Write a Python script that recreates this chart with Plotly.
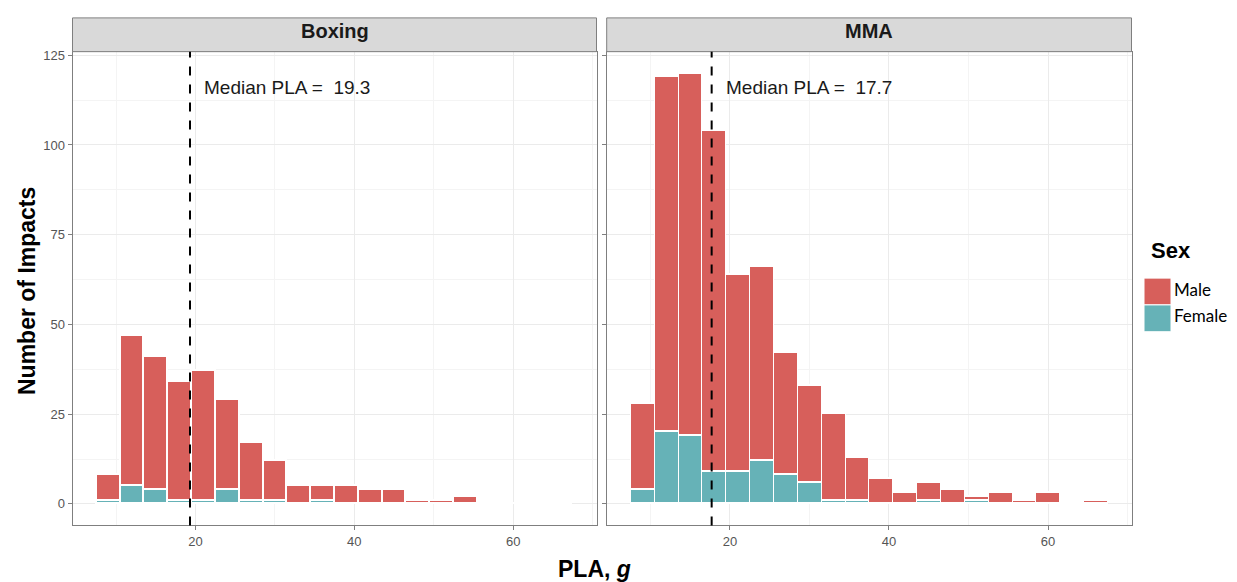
import plotly.graph_objects as go

# ---- data ----
bin_centers = [9, 12, 15, 18, 21, 24, 27, 30, 33, 36, 39, 42, 45, 48, 51, 54, 57, 60, 63, 66]
boxing_male = [7, 42, 37, 33, 36, 25, 16, 11, 5, 4, 5, 4, 4, 1, 1, 2, 0, 0, 0, 0]
boxing_female = [1, 5, 4, 1, 1, 4, 1, 1, 0, 1, 0, 0, 0, 0, 0, 0, 0, 0, 0, 0]
mma_male = [24, 99, 101, 95, 55, 54, 34, 27, 24, 12, 7, 3, 5, 4, 1, 3, 1, 3, 0, 1]
mma_female = [4, 20, 19, 9, 9, 12, 8, 6, 1, 1, 0, 0, 1, 0, 1, 0, 0, 0, 0, 0]
panels = ["Boxing", "MMA"]
medians = [19.3, 17.7]
sex_labels = ["Male", "Female"]
bin_width = 3

MALE_C = "#D75F5B"
FEMALE_C = "#66B2B7"
FONT = "Liberation Sans, Arial, sans-serif"
W, H = 1237, 582

fig = go.Figure()

series = [(boxing_male, boxing_female, "x", "y"), (mma_male, mma_female, "x2", "y2")]
for male, female, xa, ya in series:
    fig.add_trace(go.Bar(x=bin_centers, y=female, width=bin_width, marker=dict(color=FEMALE_C, line=dict(color="white", width=1.2)),
                         xaxis=xa, yaxis=ya, showlegend=False, name="Female"))
    fig.add_trace(go.Bar(x=bin_centers, y=male, width=bin_width, marker=dict(color=MALE_C, line=dict(color="white", width=1.2)),
                         xaxis=xa, yaxis=ya, showlegend=False, name="Male"))

# panel geometry in pixels
px_panels = [(72.5, 596.5), (606.7, 1131.5)]
panel_top, panel_bot = 48, 525
strip_top = 14

def px2x(p):
    return p / W

def py2y(p):
    return 1 - p / H

axis_common = dict(
    showline=True, mirror=True, linecolor="#7F7F7F", linewidth=1,
    ticks="outside", ticklen=4, tickcolor="#7F7F7F", tickwidth=1,
    showgrid=True, gridcolor="#EBEBEB", gridwidth=1, zeroline=False,
    tickfont=dict(family=FONT, size=13, color="#555555"),
)
xcommon = dict(axis_common, range=[4.5, 70.5], tickvals=[20, 40, 60],
               minor=dict(tickvals=[10, 30, 50, 70], showgrid=True, gridcolor="#F4F4F4", gridwidth=0.6, ticks=""))
ycommon = dict(axis_common, range=[-6, 126], tickvals=[0, 25, 50, 75, 100, 125],
               minor=dict(tickvals=[12.5, 37.5, 62.5, 87.5, 112.5], showgrid=True, gridcolor="#F4F4F4", gridwidth=0.6, ticks=""))

ydom = [py2y(panel_bot), py2y(panel_top)]
fig.update_layout(
    xaxis=dict(xcommon, domain=[px2x(px_panels[0][0]), px2x(px_panels[0][1])], anchor="y"),
    yaxis=dict(ycommon, domain=ydom, anchor="x"),
    xaxis2=dict(xcommon, domain=[px2x(px_panels[1][0]), px2x(px_panels[1][1])], anchor="y2"),
    yaxis2=dict(ycommon, domain=ydom, anchor="x2", matches="y", showticklabels=False),
    barmode="stack",
    bargap=0,
    width=W, height=H,
    margin=dict(l=0, r=0, t=0, b=0),
    plot_bgcolor="white", paper_bgcolor="white",
    font=dict(family=FONT),
)

shapes = []
annotations = []
for i, (name, med) in enumerate(zip(panels, medians)):
    x0, x1 = px_panels[i]
    shapes.append(dict(type="rect", xref="paper", yref="paper", x0=px2x(x0), x1=px2x(x1),
                       y0=py2y(panel_top), y1=py2y(strip_top), fillcolor="#D9D9D9",
                       line=dict(color="#7F7F7F", width=1), layer="above"))
    annotations.append(dict(xref="paper", yref="paper", x=px2x((x0 + x1) / 2), y=py2y(27),
                            text="<b>%s</b>" % name, showarrow=False, xanchor="center", yanchor="middle",
                            font=dict(family=FONT, size=20, color="#1A1A1A")))
    xr = "x" if i == 0 else "x2"
    yr = "y domain" if i == 0 else "y2 domain"
    shapes.append(dict(type="line", xref=xr, yref=yr, x0=med, x1=med, y0=0, y1=1,
                       line=dict(color="black", width=2, dash="dash"), layer="above"))
    annotations.append(dict(xref=xr, yref="y" if i == 0 else "y2", x=med + 1.5, y=116,
                            text="Median PLA = \u00a0%.1f" % med, showarrow=False, xanchor="left", yanchor="middle",
                            font=dict(family=FONT, size=19, color="#1A1A1A")))

# axis titles
annotations.append(dict(xref="paper", yref="paper", x=px2x(594), y=py2y(569), text="<b>PLA, <i>g</i></b>",
                        showarrow=False, xanchor="center", yanchor="middle", font=dict(family=FONT, size=23, color="black")))
annotations.append(dict(xref="paper", yref="paper", x=px2x(27), y=py2y(289), text="<b>Number of Impacts</b>",
                        showarrow=False, textangle=-90, xanchor="center", yanchor="middle",
                        font=dict(family=FONT, size=23, color="black")))

# legend (drawn manually)
LEG_FONT = "Lato, Open Sans, sans-serif"
annotations.append(dict(xref="paper", yref="paper", x=px2x(1149), y=py2y(248), text="<b>Sex</b>",
                        showarrow=False, xanchor="left", yanchor="middle", font=dict(family=FONT, size=22, color="black")))
for j, (lab, col) in enumerate(zip(sex_labels, [MALE_C, FEMALE_C])):
    top = 276 + j * 27
    shapes.append(dict(type="rect", xref="paper", yref="paper", x0=px2x(1144), x1=px2x(1171),
                       y0=py2y(top + 27), y1=py2y(top), fillcolor=col, line=dict(color="white", width=1)))
    annotations.append(dict(xref="paper", yref="paper", x=px2x(1172), y=py2y(top + 11), text=lab,
                            showarrow=False, xanchor="left", yanchor="middle", font=dict(family=LEG_FONT, size=17, color="black")))

fig.update_layout(shapes=shapes, annotations=annotations)
fig.write_html("out.html", config={"displayModeBar": False},
               post_script="document.body.style.margin='0px';document.body.style.overflow='hidden';")
